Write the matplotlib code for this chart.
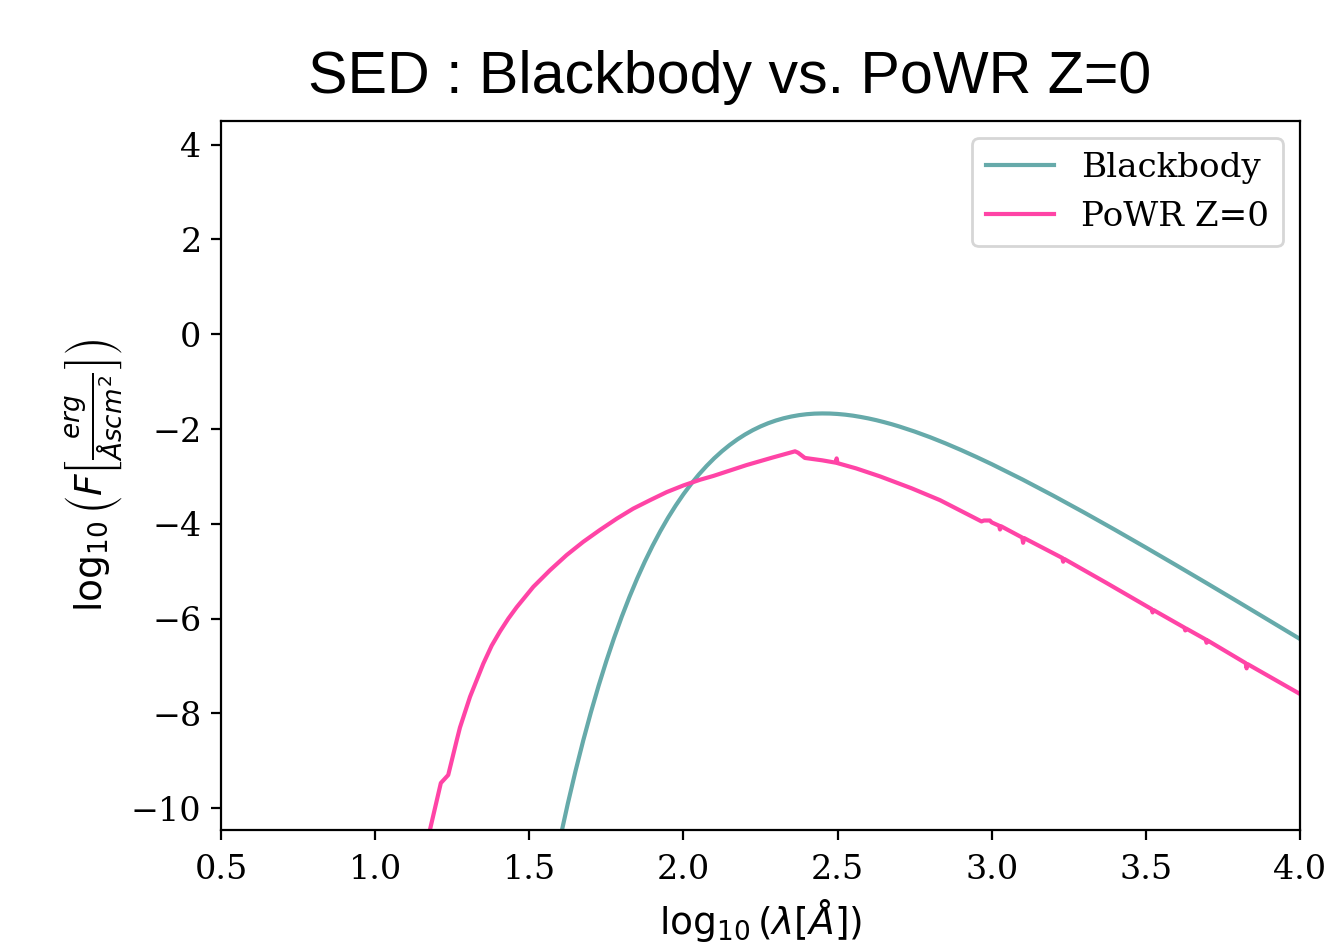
import numpy as np
import matplotlib
matplotlib.use('Agg')
import matplotlib.pyplot as plt

plt.rcParams['font.family'] = 'DejaVu Serif'
plt.rcParams['mathtext.fontset'] = 'dejavusans'

# blackbody curve, log10 wavelength vs log10 flux
bb_logwl = [1.600, 1.625, 1.650, 1.675, 1.700, 1.725, 1.750, 1.775, 1.800, 1.825,
            1.850, 1.875, 1.900, 1.925, 1.950, 1.975, 2.000, 2.025, 2.050, 2.075,
            2.100, 2.125, 2.150, 2.175, 2.200, 2.225, 2.250, 2.275, 2.300, 2.325,
            2.350, 2.375, 2.400, 2.425, 2.450, 2.475, 2.500, 2.525, 2.550, 2.575,
            2.600, 2.625, 2.650, 2.675, 2.700, 2.750, 2.800, 2.850, 2.900, 2.950,
            3.000, 3.100, 3.200, 3.300, 3.400, 3.500, 3.600, 3.700, 3.800, 3.900,
            4.000]
bb_logf = [-10.638, -9.902, -9.214, -8.572, -7.973, -7.414, -6.894, -6.409, -5.959, -5.541,
           -5.153, -4.794, -4.462, -4.156, -3.873, -3.614, -3.376, -3.158, -2.960, -2.780,
           -2.616, -2.469, -2.337, -2.219, -2.115, -2.024, -1.945, -1.877, -1.820, -1.773,
           -1.736, -1.707, -1.687, -1.675, -1.671, -1.673, -1.682, -1.697, -1.718, -1.745,
           -1.776, -1.812, -1.853, -1.897, -1.946, -2.053, -2.172, -2.302, -2.441, -2.588,
           -2.741, -3.065, -3.407, -3.762, -4.127, -4.500, -4.879, -5.262, -5.649, -6.039,
           -6.430]

# PoWR Z=0 model
powr_logwl = [1.169, 1.213, 1.237, 1.2645, 1.275, 1.3077, 1.3508, 1.378, 1.405, 1.432,
              1.459, 1.513, 1.567, 1.621, 1.675, 1.729, 1.784, 1.837, 1.892, 1.946,
              2.000, 2.054, 2.097, 2.205, 2.290, 2.362, 2.372, 2.394, 2.450, 2.494,
              2.497, 2.500, 2.560, 2.638, 2.740, 2.832, 2.967, 2.975, 2.994, 3.000,
              3.024, 3.027, 3.030, 3.099, 3.102, 3.105, 3.229, 3.232, 3.235, 3.373,
              3.519, 3.522, 3.525, 3.625, 3.628, 3.631, 3.694, 3.697, 3.700, 3.824,
              3.827, 3.830, 4.000]
powr_logf = [-10.70, -9.47, -9.30, -8.57, -8.30, -7.65, -6.95, -6.57, -6.27, -6.00,
             -5.76, -5.33, -4.98, -4.66, -4.38, -4.13, -3.89, -3.68, -3.50, -3.33,
             -3.19, -3.07, -2.99, -2.76, -2.60, -2.47, -2.50, -2.61, -2.66, -2.71,
             -2.62, -2.72, -2.83, -3.00, -3.25, -3.50, -3.95, -3.93, -3.93, -3.97,
             -4.04, -4.12, -4.05, -4.29, -4.40, -4.30, -4.72, -4.80, -4.74, -5.25,
             -5.80, -5.87, -5.82, -6.19, -6.25, -6.21, -6.44, -6.51, -6.46, -6.94,
             -7.05, -6.96, -7.59]

fig = plt.figure(figsize=(6.65, 4.76), dpi=200)
ax = fig.add_axes([0.1662, 0.1282, 0.8112, 0.7447])

ax.plot(bb_logwl, bb_logf, color='#66aaaa', lw=1.5, label='Blackbody')
ax.plot(powr_logwl, powr_logf, color='#ff44a6', lw=1.5, label='PoWR Z=0')

ax.set_xlim(0.5, 4.0)
ax.set_ylim(-10.46, 4.5)
ax.set_xticks(np.arange(0.5, 4.01, 0.5))
ax.set_yticks(np.arange(-10, 5, 2))
ax.tick_params(labelsize=12)
ax.tick_params(axis='x', pad=5)

ax.set_xlabel(r'$\log_{10}(\lambda[\AA])$', fontsize=13.5)
ax.set_ylabel(r'$\log_{10}\left(F\left[\frac{erg}{\AA s cm^2}\right]\right)$',
              fontsize=13.5, labelpad=2.2)
ax.set_title('SED : Blackbody vs. PoWR Z=0', fontsize=21.3, family='Liberation Sans',
             pad=10, x=0.4717)
ax.legend(loc='upper right', fontsize=12.3)

plt.savefig('out.png', dpi=200)
